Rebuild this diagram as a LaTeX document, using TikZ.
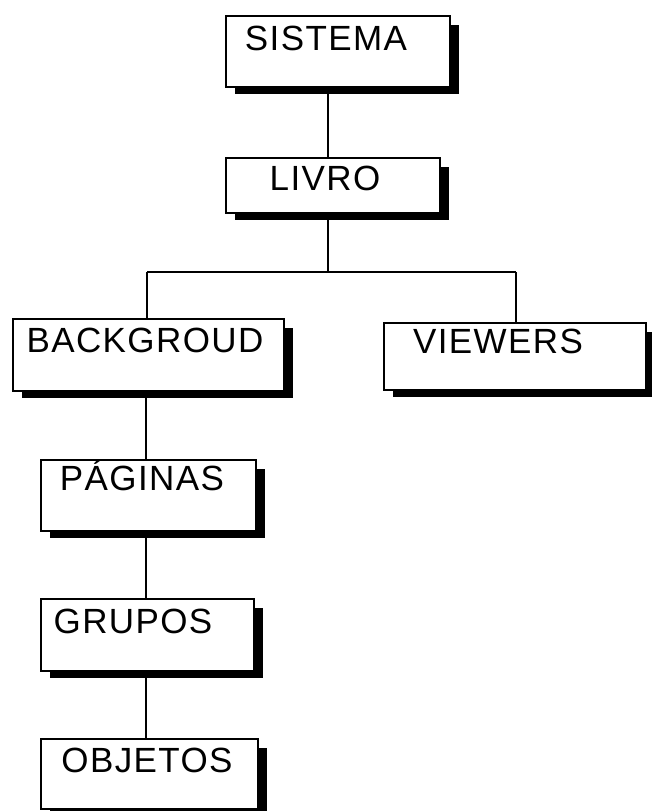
\documentclass[tikz,border=0pt]{standalone}
\usepackage{fontspec}
\setmainfont{Liberation Sans}[LetterSpace=4]
\usetikzlibrary{calc}
\tikzset{
  boxshape/.style={draw=black, fill=white, line width=1.8pt, inner sep=0pt, anchor=north west},
  shadowshape/.style={fill=black},
  boxlabel/.style={anchor=base, font=\fontsize{35}{40}\selectfont, inner sep=0pt},
  wire/.style={line width=1.8pt, draw=black}
}
\newcommand{\mkbox}[8]{%
  % #1 name, #2 left, #3 top, #4 right, #5 bottom, #6 text x, #7 baseline y, #8 text
  \fill[shadowshape] (#2+10,#3+10) rectangle (#4+10,#5+8);
  \node[boxshape, minimum width={(#4-#2)*1pt}, minimum height={(#5-#3)*1pt}] (#1) at (#2,#3) {};
  \node[boxlabel] (#1-t) at (#6,#7) {#8};
}
\begin{document}
\begin{tikzpicture}[x=1pt,y=-1pt]
\useasboundingbox (0,0) rectangle (651,811);
\mkbox{sis}{225}{15}{449}{86}{326}{50}{SISTEMA}
\mkbox{liv}{225}{157}{439}{212}{325}{190}{LIVRO}
\mkbox{bkg}{12}{318}{283}{390}{145}{352}{BACKGROUD}
\mkbox{vie}{383}{322}{645}{389}{498}{353}{VIEWERS}
\mkbox{pag}{40}{459}{255}{530}{142}{490}{PÁGINAS}
\mkbox{gru}{40}{598}{253}{670}{133}{633}{GRUPOS}
\mkbox{obj}{40}{738}{257}{808}{147}{772}{OBJETOS}
\coordinate (split) at (328,272);
\draw[wire] (sis.south -| split) -- (liv.north -| split);
\draw[wire] (liv.south -| split) -- (split);
\draw[wire] (147,272) -- (516,272);
\draw[wire] (147,272) -- (bkg.north -| 147,0);
\draw[wire] (516,272) -- (vie.north -| 516,0);
\draw[wire] (bkg.south -| 146,0) -- (pag.north -| 146,0);
\draw[wire] (pag.south -| 146,0) -- (gru.north -| 146,0);
\draw[wire] (gru.south -| 146,0) -- (obj.north -| 146,0);
\end{tikzpicture}
\end{document}
